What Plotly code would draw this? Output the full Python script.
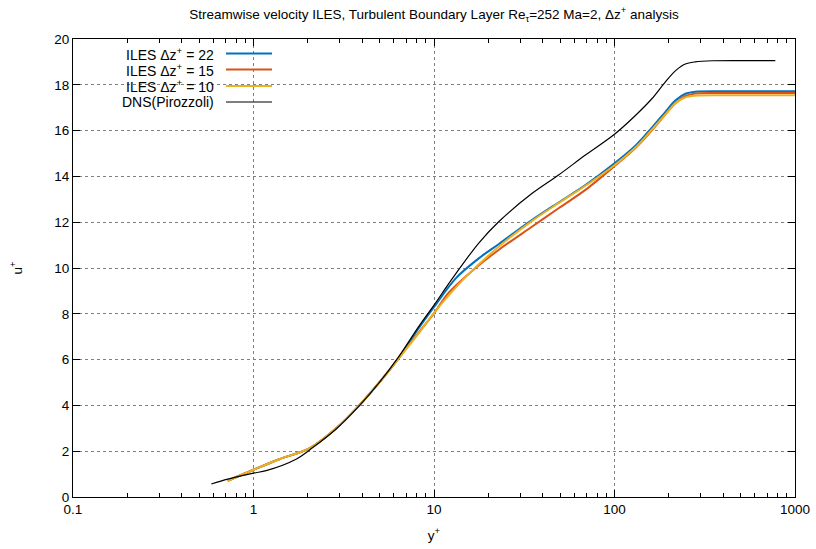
import plotly.graph_objects as go

# ---------------- data ----------------
dns_x = [0.584, 0.72, 1.0, 1.175, 1.72, 2.13, 2.86, 3.85, 4.97, 6.41, 8.26, 10.0, 12.4,
         17.7, 22.9, 35, 49, 69, 100, 131, 161, 191, 218, 247, 280, 350, 500, 778]
dns_u = [0.57, 0.78, 1.04, 1.15, 1.65, 2.16, 2.96, 3.98, 4.99, 6.15, 7.46, 8.38, 9.45,
         11.09, 12.03, 13.26, 14.06, 14.93, 15.84, 16.67, 17.39, 18.12, 18.62, 18.91, 19.0, 19.05, 19.06, 19.06]

z22_x = [0.72, 1.0, 1.39, 2.04, 2.86, 3.85, 4.97, 6.41, 8.26, 10.0, 13.2, 17.7, 22.9,
         35, 49, 69, 100, 131, 161, 191, 218, 247, 280, 400, 1000]
z22_u = [0.71, 1.19, 1.65, 2.12, 2.99, 4.0, 5.0, 6.1, 7.39, 8.3, 9.55, 10.42, 11.05,
         12.10, 12.86, 13.62, 14.57, 15.35, 16.13, 16.81, 17.32, 17.61, 17.70, 17.72, 17.72]

z15_x = [0.72, 1.0, 1.39, 2.04, 2.86, 3.85, 4.97, 6.41, 8.26, 10.0, 12.0, 17.0, 22.9,
         35, 49, 69, 100, 131, 161, 191, 218, 247, 280, 400, 1000]
z15_u = [0.71, 1.19, 1.65, 2.12, 2.99, 4.0, 4.99, 6.08, 7.2, 8.02, 8.9, 10.0, 10.80,
         11.81, 12.61, 13.41, 14.45, 15.25, 16.01, 16.7, 17.2, 17.5, 17.62, 17.64, 17.64]

z10_x = [0.72, 1.0, 1.39, 2.04, 2.86, 3.85, 4.97, 6.41, 8.26, 10.0, 14.95, 22.9,
         35, 49, 69, 100, 131, 161, 191, 218, 247, 280, 400, 1000]
z10_u = [0.71, 1.19, 1.65, 2.12, 2.99, 4.0, 4.99, 6.08, 7.17, 8.04, 9.6, 10.94,
         12.06, 12.83, 13.59, 14.49, 15.27, 16.04, 16.7, 17.2, 17.45, 17.52, 17.54, 17.54]

x_tickvals = [0.1, 1, 10, 100, 1000]
x_ticktext = ["0.1", "1", "10", "100", "1000"]
x_minorvals = [m * d for d in (0.1, 1, 10, 100) for m in range(2, 10)]
y_tickvals = [0, 2, 4, 6, 8, 10, 12, 14, 16, 18, 20]

series_names = ["ILES \u0394z<sup>+</sup> = 22", "ILES \u0394z<sup>+</sup> = 15",
                "ILES \u0394z<sup>+</sup> = 10", "DNS(Pirozzoli)"]
series_colors = ["#0072bd", "#d95319", "#edb120", "#000000"]
series_widths = [2, 2, 2, 1.2]

FONT = "Liberation Sans, Arial, sans-serif"

fig = go.Figure()
for (xs, us), name, col, w in zip([(z22_x, z22_u), (z15_x, z15_u), (z10_x, z10_u), (dns_x, dns_u)],
                                  series_names, series_colors, series_widths):
    fig.add_trace(go.Scatter(x=xs, y=us, mode="lines", name=name,
                             line=dict(color=col, width=w, shape="spline", smoothing=0.9),
                             showlegend=False))

# custom gnuplot-style legend (text right-aligned, sample line on the right)
W, H = 816, 549
L, R, T, B = 73, 21, 39, 52
pw, ph = W - L - R, H - T - B
rows_px = [53.5, 69.5, 86, 102]
for name, col, w, ypx in zip(series_names, series_colors, series_widths, rows_px):
    yp = 1 - (ypx - T) / ph
    x_text = (216 - L) / pw
    x0 = (226 - L) / pw
    x1 = (272 - L) / pw
    fig.add_annotation(x=x_text, y=yp, xref="paper", yref="paper", text=name,
                       showarrow=False, xanchor="right", yanchor="middle",
                       font=dict(size=14, color="black", family=FONT))
    fig.add_shape(type="line", xref="paper", yref="paper", x0=x0, x1=x1, y0=yp, y1=yp,
                  line=dict(color=col, width=w))

fig.update_layout(
    width=W, height=H,
    margin=dict(l=L, r=R, t=T, b=B, autoexpand=False),
    paper_bgcolor="white", plot_bgcolor="white",
    font=dict(family=FONT, size=13, color="black"),
    title=dict(text="Streamwise velocity ILES, Turbulent Boundary Layer Re<sub>\u03c4</sub>=252 Ma=2, \u0394z<sup>+</sup> analysis",
               x=0.5, xref="paper", xanchor="center", y=1 - 14 / H, yanchor="middle",
               font=dict(size=13.5, family=FONT)),
)

fig.update_xaxes(
    type="log", range=[-1, 3],
    tickvals=x_tickvals, ticktext=x_ticktext,
    ticks="inside", ticklen=7, tickcolor="black",
    showline=True, linecolor="black", linewidth=1, mirror="ticks",
    showgrid=True, gridcolor="#808080", griddash="dot", gridwidth=1,
    minor=dict(tickvals=x_minorvals, ticks="inside", ticklen=4, tickcolor="black", showgrid=False),
    zeroline=False,
    title=dict(text="y<sup>+</sup>", standoff=14, font=dict(size=13.5)),
    tickfont=dict(size=13.5),
)
fig.update_yaxes(
    range=[0, 20], tickvals=y_tickvals,
    ticks="inside", ticklen=7, tickcolor="black",
    showline=True, linecolor="black", linewidth=1, mirror="ticks",
    showgrid=True, gridcolor="#808080", griddash="dot", gridwidth=1,
    zeroline=False,
    title=dict(text="u<sup>+</sup>", standoff=28, font=dict(size=13.5)),
    tickfont=dict(size=13.5),
)

fig.write_html("out.html")
